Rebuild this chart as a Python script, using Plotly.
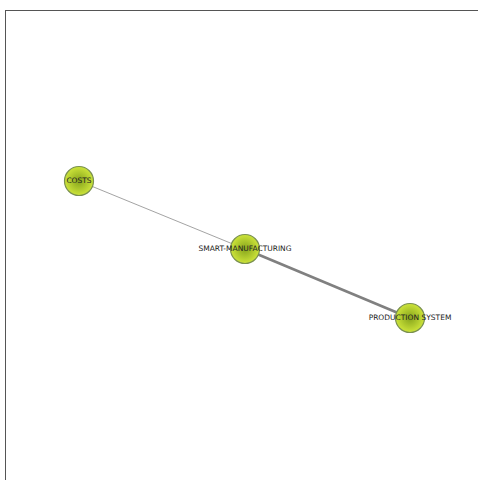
import plotly.graph_objects as go

# Network data (node layout positions)
node_names = ["COSTS", "SMART-MANUFACTURING", "PRODUCTION SYSTEM"]
node_x = [79, 245, 410]
node_y = [181, 249, 318]

# Edges as (source, target, weight)
edge_source = [0, 1]
edge_target = [1, 2]
edge_weight = [1, 3]

fig = go.Figure()

# Edges
for s, t, w in zip(edge_source, edge_target, edge_weight):
    fig.add_trace(go.Scatter(
        x=[node_x[s], node_x[t]],
        y=[node_y[s], node_y[t]],
        mode="lines",
        line=dict(color="#999999" if w == 1 else "#808080", width=w * 0.9),
        hoverinfo="skip",
        showlegend=False))

# Nodes
fig.add_trace(go.Scatter(
    x=node_x, y=node_y,
    mode="markers+text",
    text=node_names,
    textposition="middle center",
    textfont=dict(family="DejaVu Sans", size=7.5, color="#222222"),
    marker=dict(size=29, color="#cde43a",
                gradient=dict(type="radial", color="#86a41c"),
                line=dict(color="#7a9050", width=1.2)),
    hoverinfo="text",
    showlegend=False))

fig.update_layout(
    width=478, height=480,
    margin=dict(l=6, r=0, t=11, b=0),
    paper_bgcolor="white",
    plot_bgcolor="white",
    xaxis=dict(range=[6, 478], visible=True, showgrid=False, zeroline=False,
               showticklabels=False, ticks="", side="top",
               showline=True, linecolor="#555555", linewidth=1),
    yaxis=dict(range=[480, 11], showgrid=False, zeroline=False,
               showticklabels=False, ticks="",
               showline=True, linecolor="#555555", linewidth=1),
)

fig.write_html("out.html", config={"displayModeBar": False},
               post_script="document.body.style.margin='0';")
